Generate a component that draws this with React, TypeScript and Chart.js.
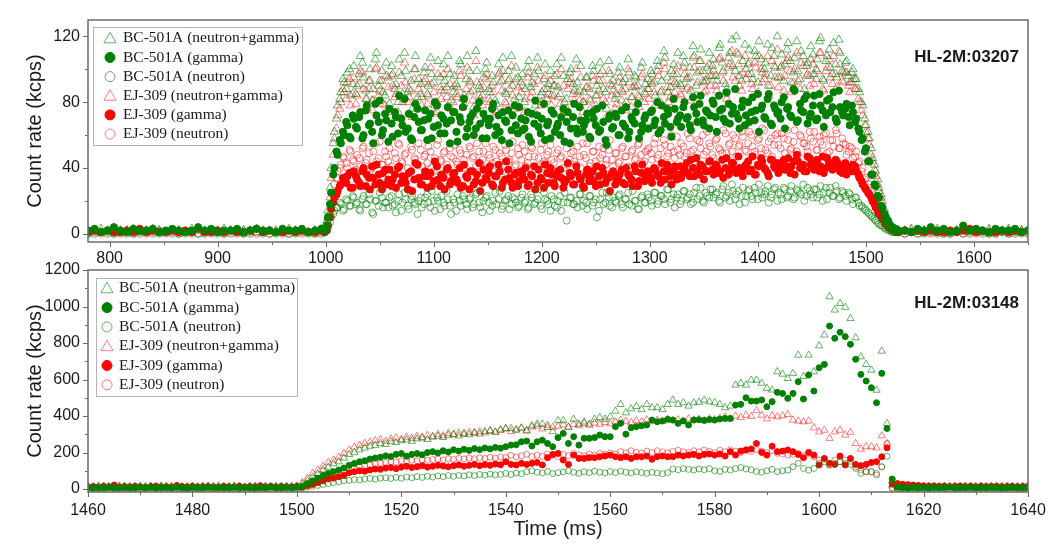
import React, { useEffect, useRef } from "react";
import { Chart, registerables } from "chart.js";

Chart.register(...registerables);

const SANS = "'Liberation Sans', Arial, sans-serif";
const SERIF = "'Liberation Serif', 'Times New Roman', serif";
const INK = "#1a1a1a";
const FRAME = "#6b6b6b";
const GREEN = "#008000";
const GREEN_OPEN = "rgba(0,128,0,0.6)";
const RED = "#ff0000";
const RED_OPEN = "rgba(255,0,0,0.5)";

const SERIES_LABELS = [
  "BC-501A (neutron+gamma)",
  "BC-501A (gamma)",
  "BC-501A (neutron)",
  "EJ-309 (neutron+gamma)",
  "EJ-309 (gamma)",
  "EJ-309 (neutron)",
];

// ---------- Shot HL-2M:03207 (count rate, kcps) ----------
// pre-discharge baseline: every 6 ms from 780 ms
const S1_PRE_T0 = 780;
const S1_PRE_DT = 6;
// discharge, two interleaved bin sets: every 3 ms from 999 ms and from 1001 ms
const S1_MAIN_T0 = 999;
const S1_MAIN_T0B = 1001;
const S1_MAIN_DT = 3;
// post-discharge baseline: every 6 ms from 1536 ms
const S1_POST_T0 = 1536;
const S1_POST_DT = 6;

const S1_BC_NG_PRE = [2,1,3,2,1,2,2,3,1,2,3,2,1,2,2,1,3,2,2,1,2,3,2,1,2,2,3,1,2,2,1,3,2,2,1,2,3];
const S1_BC_NG = [
  2,14,40,62,78,86,92,98,84,102, 90,108,95,82,100,88,110,93,86,104,
  79,97,91,106,85,99,88,76,108,94, 83,101,90,97,78,105,87,93,108,81,
  96,89,103,84,108,92,77,99,88,95, 104,86,92,79,98,107,85,94,90,101,
  83,97,88,105,92,78,99,86,103,91, 84,96,89,107,80,94,100,87,92,102,
  86,95,81,99,90,104,88,76,97,93, 85,101,92,80,98,89,95,83,104,91,
  88,97,84,102,93,107,86,99,92,110, 90,104,95,87,108,98,112,92,101,96,
  106,93,115,99,88,110,102,120,96,105, 100,112,94,108,117,98,104,90,113,101,
  95,109,103,116,92,107,99,111,88,104, 114,97,106,119,93,108,101,116,95,110,
  98,105,92,100,94,86,78,66,58,46, 38,28,20,12,7,4,3,2,
];
const S1_BC_NG_B = [
  8,28,55,70,82,94,88,100,91,85, 97,104,87,93,81,106,90,99,84,95,
  102,88,80,96,110,86,93,100,83,91, 98,85,107,92,80,95,103,89,97,86,
  91,105,82,94,99,87,111,90,84,100, 88,96,81,103,93,86,99,108,82,95,
  92,80,101,89,97,107,84,94,88,99, 90,103,85,96,82,98,91,106,87,80,
  95,88,102,84,93,99,86,105,90,82, 98,87,94,106,83,96,90,101,86,94,
  99,92,105,86,111,95,89,103,97,91, 108,94,101,114,90,105,99,93,110,102,
  96,113,104,91,107,118,99,109,93,115, 103,97,111,92,106,100,115,96,108,120,
  101,93,112,105,98,117,94,108,102,96, 109,100,117,94,105,112,97,103,118,99,
  104,96,98,94,88,80,70,62,52,42, 33,24,15,10,5,3,2,
];
const S1_BC_NG_POST = [2,3,1,2,2,3,2,1,2,3,2,2,1,3,2,2,3,1,2,2];

const S1_BC_G_PRE = [2,3,1,2,4,2,1,3,2,2,3,1,2,3,2,1,2,4,2,3,1,2,2,3,1,2,3,2,2,1,3,2,2,3,1,2,3];
const S1_BC_G = [
  2,10,25,40,48,55,60,66,58,70, 64,74,60,78,67,55,72,81,63,69,
  76,59,71,84,66,62,73,57,79,68, 63,75,70,58,80,66,72,61,77,69,
  74,56,68,82,64,71,60,76,67,73, 58,70,79,65,62,74,68,55,72,66,
  77,63,69,59,73,81,65,70,57,68, 75,62,67,71,56,74,64,79,61,69,
  66,73,58,70,76,63,68,54,72,65, 71,60,67,77,62,69,74,58,66,72,
  64,75,69,61,78,67,73,59,76,70, 65,80,71,63,77,68,84,66,74,72,
  79,62,75,70,86,67,77,73,64,81, 72,68,83,75,62,78,70,85,66,76,
  74,80,64,77,71,87,69,75,82,67, 73,84,70,78,65,81,74,86,68,77,
  72,79,66,74,70,62,58,52,44,36, 29,22,16,10,7,4,3,2,
];
const S1_BC_G_B = [
  5,18,36,50,57,62,68,59,72,65, 71,58,75,66,62,79,68,60,73,56,
  67,74,61,70,82,64,58,71,76,63, 69,57,73,65,78,61,70,67,55,74,
  62,71,77,59,68,73,64,80,58,70, 66,76,60,72,57,69,75,63,78,61,
  70,64,74,56,67,72,61,79,66,58, 73,65,60,76,68,55,71,64,77,62,
  69,59,74,66,62,78,57,70,64,73, 60,75,65,58,71,67,79,62,70,64,
  74,66,80,63,71,76,65,82,68,72, 77,70,66,83,73,79,69,75,64,81,
  71,84,76,68,79,73,88,70,77,66, 80,74,69,85,76,71,82,67,78,73,
  70,83,76,72,88,68,79,74,84,71, 78,69,85,75,72,82,77,70,87,74,
  76,71,78,68,64,57,50,44,36,30, 23,17,12,8,5,3,2,
];
const S1_BC_G_POST = [2,1,3,2,4,2,3,1,2,5,2,3,2,1,3,2,2,3,1,2];

const S1_BC_N_PRE = [0,0,1,0,0,1,0,0,0,1,0,0,1,0,0,0,1,0,0,1,0,0,0,1,0,0,1,0,0,0,1,0,0,1,0,0,0];
const S1_BC_N = [
  1,4,10,14,16,18,15,20,17,22, 19,14,23,18,21,12,20,25,16,19,
  22,17,13,24,19,21,15,23,18,20, 16,22,19,26,14,20,23,17,21,12,
  19,24,17,21,15,22,18,25,16,20, 23,14,20,18,26,17,21,15,22,19,
  17,24,20,16,22,19,27,15,21,18, 23,17,20,14,25,19,22,18,16,24,
  20,15,23,19,10,21,18,25,17,22, 19,24,16,21,18,26,20,15,23,19,
  22,17,25,20,23,18,27,21,16,24, 20,26,22,18,25,21,28,19,23,27,
  22,25,19,29,23,20,26,24,18,28, 23,27,21,25,30,22,26,19,24,28,
  25,21,27,23,29,22,26,24,20,28, 24,27,22,29,25,21,28,23,26,22,
  25,20,24,18,22,17,16,14,12,10, 8,6,5,3,2,1,1,1,
];
const S1_BC_N_B = [
  2,7,12,16,19,14,21,17,23,18, 15,21,18,24,13,20,17,22,19,16,
  23,18,20,14,25,17,21,19,12,22, 18,24,16,20,22,15,19,26,17,21,
  14,20,23,18,21,16,24,19,13,22, 19,17,25,21,15,20,23,18,21,16,
  22,19,15,24,18,21,17,25,20,14, 21,16,23,19,8,22,18,20,24,17,
  19,23,17,21,14,25,19,22,16,20, 23,18,21,25,17,20,15,22,19,24,
  20,25,18,23,21,27,19,24,22,18, 26,21,24,19,28,23,20,25,22,27,
  24,20,27,22,25,30,21,26,23,19, 26,23,28,21,25,24,29,22,27,20,
  24,28,22,26,21,27,25,30,23,26, 22,27,24,20,28,25,23,29,21,26,
  23,25,21,22,19,17,15,13,11,9, 7,5,4,3,2,1,1,
];
const S1_BC_N_POST = [0,1,0,0,1,0,0,0,1,0,0,1,0,0,0,1,0,0,1,0];

const S1_EJ_NG_PRE = [1,2,1,1,2,1,2,1,1,2,1,2,1,1,2,1,1,2,1,2,1,1,2,1,2,1,1,2,1,1,2,1,2,1,1,2,1];
const S1_EJ_NG = [
  2,10,34,58,72,80,86,92,78,95, 84,99,88,76,93,81,101,87,79,96,
  74,90,85,98,80,92,83,71,100,88, 78,94,84,91,73,97,82,87,100,76,
  90,83,96,79,101,86,72,92,82,89, 97,80,86,74,92,99,79,88,84,94,
  77,90,82,98,86,73,93,80,96,85, 78,90,83,100,75,88,94,81,86,95,
  80,89,76,93,84,97,82,71,91,87, 79,95,86,75,92,83,89,77,97,85,
  82,91,78,96,87,100,80,93,86,102, 84,97,89,81,101,92,105,86,95,90,
  99,87,107,93,82,103,95,110,90,98, 94,104,88,101,108,92,97,84,105,95,
  89,102,96,107,86,100,93,104,82,97, 106,91,99,110,87,101,95,108,89,103,
  92,98,86,94,88,80,72,62,54,44, 35,26,18,11,6,4,2,2,
];
const S1_EJ_NG_B = [
  6,22,48,64,76,88,82,94,85,79, 91,98,82,88,75,100,84,93,78,89,
  96,83,74,90,104,80,87,94,77,85, 92,79,101,86,74,89,97,83,91,80,
  85,99,77,88,93,81,105,84,78,94, 82,90,75,97,87,80,93,102,76,89,
  86,74,95,83,91,101,78,88,82,93, 84,97,79,90,76,92,85,100,81,74,
  89,82,96,78,87,93,80,99,84,76, 92,81,88,100,77,90,84,95,80,88,
  93,86,99,80,104,89,83,97,91,85, 101,88,95,107,84,99,93,87,103,96,
  90,106,98,85,101,111,93,103,87,108, 97,91,104,86,100,94,108,90,102,112,
  95,87,105,99,92,110,88,102,96,90, 103,94,110,88,99,106,91,97,111,93,
  98,90,92,88,82,75,66,58,48,39, 30,22,14,9,5,3,2,
];
const S1_EJ_NG_POST = [1,2,1,2,1,1,2,1,2,1,1,2,1,2,1,1,2,1,2,1];

const S1_EJ_G_PRE = [1,2,1,2,1,1,2,1,3,1,2,1,1,2,1,2,1,3,1,1,2,1,2,1,1,2,3,1,2,1,1,2,1,2,1,1,2];
const S1_EJ_G = [
  1,5,15,22,26,30,32,35,28,38, 33,29,40,36,27,34,42,31,37,30,
  39,33,28,41,35,31,37,26,43,34, 30,38,35,29,44,33,36,27,40,32,
  37,31,28,42,34,38,30,36,26,39, 33,41,29,35,38,31,44,34,28,37,
  32,36,40,30,35,27,39,33,42,31, 36,29,38,34,31,43,35,30,37,33,
  28,39,35,32,41,30,37,34,26,38, 33,36,31,40,35,29,38,32,42,34,
  37,31,39,35,43,33,38,30,41,36, 34,40,37,45,35,39,42,33,38,44,
  36,41,38,34,46,39,43,37,40,35, 42,38,47,36,41,44,39,35,45,40,
  37,43,39,46,41,36,44,40,38,47, 42,39,45,41,37,46,43,40,44,38,
  41,36,39,42,38,34,30,27,24,20, 16,12,9,6,4,3,2,1,
];
const S1_EJ_G_B = [
  2,10,19,24,29,34,31,37,28,35, 31,38,29,34,41,30,36,27,39,33,
  29,36,40,31,34,27,38,33,42,30, 35,28,37,32,41,29,34,39,30,36,
  33,40,29,35,27,38,32,43,31,34, 37,30,35,42,28,33,39,31,36,29,
  38,33,29,36,41,31,34,28,37,40, 31,35,39,28,33,37,30,41,34,29,
  36,32,38,29,35,40,31,34,37,30, 35,39,30,36,33,41,29,37,32,38,
  34,40,36,31,38,42,35,39,33,41, 37,43,35,40,46,36,41,38,44,39,
  42,37,45,40,36,43,39,47,38,41, 44,39,36,42,46,40,37,45,41,43,
  39,45,41,37,44,48,40,42,38,46, 41,44,38,47,40,43,39,45,42,37,
  43,40,38,41,36,32,28,25,22,18, 14,11,8,5,3,2,1,
];
const S1_EJ_G_POST = [2,1,2,1,2,1,1,2,1,2,3,1,2,1,1,2,1,2,1,2];

const S1_EJ_N_PRE = [0,1,0,1,0,0,1,0,1,0,1,2,0,1,0,1,0,0,1,0,1,0,1,0,0,1,0,1,0,1,0,0,1,0,1,0,1];
const S1_EJ_N = [
  1,6,18,30,38,42,46,40,50,44, 48,41,53,45,38,50,44,56,42,47,
  52,39,46,54,43,49,37,51,45,55, 41,48,53,40,46,57,44,50,38,47,
  54,42,49,45,36,52,47,55,43,50, 40,46,53,44,49,38,51,45,56,42,
  48,54,41,47,52,39,46,55,43,50, 45,38,51,47,56,42,49,44,53,40,
  48,55,43,50,39,46,52,45,57,41, 49,44,53,47,40,51,46,55,43,50,
  52,45,58,48,42,54,49,60,46,51, 55,47,61,50,44,57,52,48,62,53,
  46,58,51,63,49,55,60,47,54,59, 50,62,53,48,58,64,51,56,47,60,
  54,61,49,57,52,63,48,59,55,50, 58,62,51,56,60,49,57,53,61,52,
  55,48,53,46,50,44,40,34,30,24, 18,14,10,6,4,2,1,1,
];
const S1_EJ_N_B = [
  2,12,24,34,40,47,43,51,45,39, 46,52,43,49,40,55,46,42,50,44,
  41,49,55,44,48,40,53,46,42,51, 47,43,50,38,54,45,49,42,52,46,
  44,51,40,48,53,46,41,50,45,55, 48,43,51,39,47,54,44,49,41,52,
  45,50,43,53,47,41,51,44,48,54, 43,49,46,40,52,45,50,42,47,55,
  46,41,50,44,53,48,42,51,45,49, 43,52,47,41,50,45,54,48,44,51,
  49,55,46,52,57,47,53,50,59,48, 53,49,58,51,46,56,60,50,55,48,
  57,52,49,61,54,50,58,53,62,51, 55,60,50,57,52,63,49,58,54,61,
  52,58,63,51,56,50,60,55,53,62, 56,51,59,54,61,50,57,63,52,58,
  54,50,52,47,43,38,33,28,23,19, 15,11,8,5,3,2,1,
];
const S1_EJ_N_POST = [0,1,0,1,0,1,0,0,1,0,1,0,1,0,0,1,0,1,0,1];

// ---------- Shot HL-2M:03148 (count rate, kcps), 1 ms bins ----------
const S2_PRE_T0 = 1460;
const S2_MAIN_T0 = 1501;
const S2_POST_T0 = 1614;
const S2_DT = 1;

const S2_BC_NG_PRE = [12,10,14,11,13,9,12,14,10,13,11,12,15,10,12,13,11,14,10,12,13,11,12,14,10,13,12,11,14,12,10,13,11,12,14,10,12,13,11,12,14];
const S2_BC_NG = [
  25,45,65,85,105,120,140,150,170,190, 200,215,225,235,240,250,245,260,255,265,
  270,262,275,280,272,285,290,283,295,300, 292,305,298,310,302,315,320,312,325,
  332,332,323,334,318,347,356,356,338,315, 375,375,338,383,356,368,356,383,392,383,
  396,427,464,418,440,453,436,464,446,446, 436,464,488,464,473,455,473,476,488,479,
  473,464,446,455,570,580,570,597,597,580, 552,543,643,630,606,634,734,617,734,643,
  785,844,1054,981,1017,996,935,829,725,683, 652,542,756,360,
];
const S2_BC_NG_POST = [45,18,12,10,13,11,9,12,10,11,13,10,12,9,11,12,10,13,11,10,12,9,11,12,10,11,12];

const S2_BC_G_PRE = [8,6,9,7,10,8,6,9,7,8,10,7,9,6,8,9,7,10,8,6,9,8,7,10,8,9,6,8,10,7,9,8,6,9,7,10,8,7,9,8,10];
const S2_BC_G = [
  15,30,45,60,75,85,95,105,115,130, 140,150,155,165,170,175,182,178,190,195,
  180,190,195,188,200,205,198,210,203,215, 208,218,212,222,216,225,220,228,224,
  232,241,243,259,263,236,259,268,250,232, 282,305,250,287,241,278,278,282,296,287,
  287,342,360,301,336,342,347,351,378,369, 373,382,378,360,373,351,378,380,376,381,
  378,384,387,387,460,464,500,482,482,488, 451,479,530,524,497,524,588,493,625,537,
  665,683,893,826,859,835,793,711,628,592, 555,473,634,332,
];
const S2_BC_G_POST = [55,10,8,6,9,7,8,6,9,7,8,10,6,8,7,9,6,8,7,9,8,6,7,9,8,7,8];

const S2_BC_N_PRE = [2,3,1,2,3,2,4,2,1,3,2,2,3,1,2,4,2,3,2,1,3,2,2,3,1,2,3,2,4,2,1,3,2,2,3,1,2,3,2,2,3];
const S2_BC_N = [
  5,10,15,20,25,30,35,40,45,48, 52,50,55,58,54,60,62,58,64,60,
  66,62,68,64,70,66,72,68,74,70, 75,72,78,74,80,76,82,78,80,
  86,80,88,84,95,100,92,88,96,85, 90,94,100,92,86,95,90,98,92,88,
  96,90,98,92,88,95,90,86,92,88, 84,90,110,106,112,108,104,110,106,112,
  100,96,108,104,112,118,110,106,96,92, 100,108,95,100,104,122,141,113,104,113,
  141,150,132,141,150,141,135,113,86,95, 95,77,122,180,
];
const S2_BC_N_POST = [8,3,2,3,2,1,3,2,2,3,1,2,3,2,2,1,3,2,2,3,1,2,2,3,2,1,2];

const S2_EJ_NG_PRE = [15,13,16,14,12,15,17,13,15,14,16,12,15,14,17,13,15,16,14,12,15,13,16,14,15,17,13,14,16,15,12,14,16,13,15,14,16,13,15,14,16];
const S2_EJ_NG = [
  35,60,85,105,125,145,160,175,195,215, 230,240,250,258,265,270,262,275,280,272,
  285,278,290,283,295,288,300,292,305,298, 308,300,312,305,315,308,318,312,322,
  330,315,325,335,322,340,345,330,350,338, 345,352,340,355,348,360,350,362,355,365,
  358,368,378,372,365,375,368,380,372,378, 370,382,375,380,372,385,378,382,375,385,
  380,388,395,385,400,392,405,398,430,405, 385,402,396,402,409,378,373,369,373,336,
  314,323,278,314,323,296,311,250,219,232, 232,226,292,250,
];
const S2_EJ_NG_POST = [22,15,14,16,13,15,14,16,15,13,16,14,15,13,16,15,14,16,13,15,14,16,15,13,15,14,16];

const S2_EJ_G_PRE = [12,14,10,16,13,22,11,14,12,15,13,10,14,16,12,13,11,20,14,12,15,11,13,14,12,10,15,13,12,16,11,14,13,18,12,15,11,14,13,12,15];
const S2_EJ_G = [
  10,18,25,35,45,55,60,68,75,90, 95,100,98,105,110,108,115,118,112,120,
  125,118,122,128,120,125,130,126,122,128, 132,125,130,135,128,134,130,137,133,
  150,135,132,141,135,141,146,132,172,190, 195,159,135,186,168,168,172,172,177,181,
  186,177,172,177,168,177,177,181,163,177, 181,177,177,186,181,186,190,181,190,192,
  186,192,181,205,186,208,215,220,250,201, 186,235,205,208,214,205,190,172,201,186,
  132,168,141,135,181,132,168,135,128,135, 146,150,177,226,
];
const S2_EJ_G_POST = [28,30,26,24,22,20,18,16,17,15,16,14,15,17,14,16,13,15,14,16,15,13,14,15,13,14,15];

const S2_EJ_N_PRE = [3,4,2,3,5,3,2,4,3,3,4,2,3,5,3,4,2,3,4,3,2,4,3,5,3,2,4,3,3,4,2,5,3,4,3,2,4,3,3,4,3];
const S2_EJ_N = [
  12,25,38,50,62,72,80,90,98,108, 115,122,128,132,138,142,145,150,148,155,
  152,158,155,160,158,162,165,160,166,163, 168,165,170,166,172,168,174,170,176,
  172,185,176,182,190,178,186,180,192,185, 178,190,184,195,188,182,192,186,196,190,
  198,192,205,198,210,202,196,208,200,210, 204,198,206,212,204,200,210,205,214,206,
  200,212,205,215,208,200,212,206,216,208, 200,210,196,192,186,190,196,183,196,177,
  159,164,132,159,150,159,153,122,104,95, 95,86,122,250,
];
const S2_EJ_N_POST = [4,3,4,2,3,4,3,2,4,3,3,4,2,3,4,3,2,4,3,3,4,2,3,4,3,2,3];

// ---------- axes ----------
const S1_X_TICKS = [800, 900, 1000, 1100, 1200, 1300, 1400, 1500, 1600];
const S1_X_MINOR = [850, 950, 1050, 1150, 1250, 1350, 1450, 1550, 1650];
const S1_Y_TICKS = [0, 40, 80, 120];
const S1_Y_MINOR = [20, 60, 100];
const S2_X_TICKS = [1460, 1480, 1500, 1520, 1540, 1560, 1580, 1600, 1620, 1640];
const S2_X_MINOR = [1470, 1490, 1510, 1530, 1550, 1570, 1590, 1610, 1630];
const S2_Y_TICKS = [0, 200, 400, 600, 800, 1000, 1200];
const S2_Y_MINOR = [100, 300, 500, 700, 900, 1100];

type Pt = { x: number; y: number };

function seg(t0: number, dt: number, vals: number[]): Pt[] {
  return vals.map((v, i) => ({ x: t0 + i * dt, y: v }));
}

function shot1(pre: number[], main: number[], mainB: number[], post: number[]): Pt[] {
  return [
    ...seg(S1_PRE_T0, S1_PRE_DT, pre),
    ...seg(S1_MAIN_T0, S1_MAIN_DT, main),
    ...seg(S1_MAIN_T0B, S1_MAIN_DT, mainB),
    ...seg(S1_POST_T0, S1_POST_DT, post),
  ];
}

function shot2(pre: number[], main: number[], post: number[]): Pt[] {
  return [
    ...seg(S2_PRE_T0, S2_DT, pre),
    ...seg(S2_MAIN_T0, S2_DT, main),
    ...seg(S2_POST_T0, S2_DT, post),
  ];
}

type Kind = "triangle" | "circle";
const STYLES: { kind: Kind; color: string; filled: boolean }[] = [
  { kind: "triangle", color: GREEN_OPEN, filled: false },
  { kind: "circle", color: GREEN, filled: true },
  { kind: "circle", color: GREEN_OPEN, filled: false },
  { kind: "triangle", color: RED_OPEN, filled: false },
  { kind: "circle", color: RED, filled: true },
  { kind: "circle", color: RED_OPEN, filled: false },
];

type LegendBox = { x: number; y: number; w: number; h: number; symX: number; textX: number; row0: number; step: number };

type PanelSpec = {
  shot: string;
  top: number;
  height: number;
  padTop: number;
  xAxisH: number;
  xTickPad: number;
  series: Pt[][];
  xMin: number; xMax: number; yMin: number; yMax: number;
  xTicks: number[]; xMinor: number[]; yTicks: number[]; yMinor: number[];
  triR: number; dotR: number; ringR: number;
  legend: LegendBox;
  shotPos: { x: number; y: number };
  yTitleY: number;
  xTitle?: { x: number; y: number };
};

function drawMarker(ctx: CanvasRenderingContext2D, kind: Kind, x: number, y: number, r: number, color: string, filled: boolean) {
  ctx.beginPath();
  if (kind === "triangle") {
    for (let k = 0; k < 3; k++) {
      const a = (k * 2 * Math.PI) / 3;
      const px = x + Math.sin(a) * r;
      const py = y - Math.cos(a) * r;
      if (k === 0) ctx.moveTo(px, py);
      else ctx.lineTo(px, py);
    }
    ctx.closePath();
  } else {
    ctx.arc(x, y, r, 0, Math.PI * 2);
  }
  if (filled) {
    ctx.fillStyle = color;
    ctx.fill();
  }
  ctx.strokeStyle = color;
  ctx.lineWidth = 1;
  ctx.stroke();
}

function decor(p: PanelSpec) {
  return {
    id: "decor",
    afterDraw(chart: any) {
      const { ctx, chartArea: a, scales } = chart;
      const xs = scales.x;
      const ys = scales.y;
      ctx.save();

      // frame
      ctx.strokeStyle = FRAME;
      ctx.lineWidth = 1.5;
      ctx.strokeRect(a.left, a.top, a.right - a.left, a.bottom - a.top);

      // outward tick marks
      ctx.lineWidth = 1;
      ctx.beginPath();
      const xt = (vals: number[], len: number) => {
        for (const v of vals) {
          const px = Math.round(xs.getPixelForValue(v)) + 0.5;
          ctx.moveTo(px, a.bottom);
          ctx.lineTo(px, a.bottom + len);
        }
      };
      const yt = (vals: number[], len: number) => {
        for (const v of vals) {
          const py = Math.round(ys.getPixelForValue(v)) + 0.5;
          ctx.moveTo(a.left, py);
          ctx.lineTo(a.left - len, py);
        }
      };
      xt(p.xTicks, 5);
      xt(p.xMinor, 3);
      yt(p.yTicks, 5);
      yt(p.yMinor, 3);
      ctx.stroke();

      // axis titles
      ctx.fillStyle = INK;
      ctx.font = `20px ${SANS}`;
      ctx.textAlign = "center";
      ctx.textBaseline = "middle";
      ctx.save();
      ctx.translate(35, p.yTitleY);
      ctx.rotate(-Math.PI / 2);
      ctx.fillText("Count rate (kcps)", 0, 0);
      ctx.restore();
      if (p.xTitle) ctx.fillText("Time (ms)", p.xTitle.x, p.xTitle.y);

      // shot number
      ctx.font = `bold 17px ${SANS}`;
      ctx.textAlign = "right";
      ctx.fillText(p.shot, p.shotPos.x, p.shotPos.y);

      // legend
      const L = p.legend;
      ctx.fillStyle = "#ffffff";
      ctx.fillRect(L.x, L.y, L.w, L.h);
      ctx.strokeStyle = "#b4b4b4";
      ctx.lineWidth = 1;
      ctx.strokeRect(L.x + 0.5, L.y + 0.5, L.w, L.h);
      ctx.font = `15.5px ${SERIF}`;
      ctx.textAlign = "left";
      ctx.textBaseline = "middle";
      SERIES_LABELS.forEach((label, i) => {
        const st = STYLES[i];
        const yy = L.row0 + i * L.step;
        drawMarker(ctx, st.kind, L.symX, yy + (st.kind === "triangle" ? 1 : 0), st.kind === "triangle" ? 7 : 5, st.color, st.filled);
        ctx.fillStyle = INK;
        ctx.fillText(label, L.textX, yy);
      });

      ctx.restore();
    },
  };
}

function buildConfig(p: PanelSpec): any {
  return {
    type: "scatter",
    data: {
      datasets: p.series.map((pts, i) => {
        const st = STYLES[i];
        const r = st.kind === "triangle" ? p.triR : st.filled ? p.dotR : p.ringR;
        return {
          label: SERIES_LABELS[i],
          data: pts,
          showLine: false,
          pointStyle: st.kind,
          pointRadius: r,
          pointHoverRadius: r,
          pointBorderWidth: 1,
          pointBorderColor: st.color,
          pointBackgroundColor: st.filled ? st.color : "rgba(0,0,0,0)",
        };
      }),
    },
    options: {
      animation: false,
      responsive: false,
      events: [],
      layout: { padding: { top: p.padTop, right: 31, left: 0, bottom: 0 } },
      plugins: { legend: { display: false }, tooltip: { enabled: false } },
      scales: {
        x: {
          type: "linear",
          min: p.xMin,
          max: p.xMax,
          afterBuildTicks: (s: any) => {
            s.ticks = p.xTicks.map((v) => ({ value: v }));
          },
          afterFit: (s: any) => {
            s.height = p.xAxisH;
          },
          grid: { display: false, drawTicks: false },
          border: { display: false },
          ticks: {
            padding: p.xTickPad,
            color: INK,
            font: { family: SANS, size: 16 },
            maxRotation: 0,
            autoSkip: false,
            callback: (v: number) => String(v),
          },
        },
        y: {
          type: "linear",
          min: p.yMin,
          max: p.yMax,
          afterBuildTicks: (s: any) => {
            s.ticks = p.yTicks.map((v) => ({ value: v }));
          },
          afterFit: (s: any) => {
            s.width = 88;
          },
          grid: { display: false, drawTicks: false },
          border: { display: false },
          ticks: {
            padding: 8,
            color: INK,
            font: { family: SANS, size: 16 },
            autoSkip: false,
            callback: (v: number) => String(v),
          },
        },
      },
    },
    plugins: [decor(p)],
  };
}

const PANEL_1: PanelSpec = {
  shot: "HL-2M:03207",
  top: 0,
  height: 270,
  padTop: 20,
  xAxisH: 28,
  xTickPad: 7,
  series: [
    shot1(S1_BC_NG_PRE, S1_BC_NG, S1_BC_NG_B, S1_BC_NG_POST),
    shot1(S1_BC_G_PRE, S1_BC_G, S1_BC_G_B, S1_BC_G_POST),
    shot1(S1_BC_N_PRE, S1_BC_N, S1_BC_N_B, S1_BC_N_POST),
    shot1(S1_EJ_NG_PRE, S1_EJ_NG, S1_EJ_NG_B, S1_EJ_NG_POST),
    shot1(S1_EJ_G_PRE, S1_EJ_G, S1_EJ_G_B, S1_EJ_G_POST),
    shot1(S1_EJ_N_PRE, S1_EJ_N, S1_EJ_N_B, S1_EJ_N_POST),
  ],
  xMin: 780, xMax: 1650, yMin: -5, yMax: 130,
  xTicks: S1_X_TICKS, xMinor: S1_X_MINOR, yTicks: S1_Y_TICKS, yMinor: S1_Y_MINOR,
  triR: 4.8, dotR: 3.6, ringR: 3.5,
  legend: { x: 93, y: 27, w: 209, h: 118, symX: 110, textX: 123, row0: 38.3, step: 19.15 },
  shotPos: { x: 1019, y: 57 },
  yTitleY: 131,
};

const PANEL_2: PanelSpec = {
  shot: "HL-2M:03148",
  top: 250,
  height: 295,
  padTop: 20,
  xAxisH: 53,
  xTickPad: 9,
  series: [
    shot2(S2_BC_NG_PRE, S2_BC_NG, S2_BC_NG_POST),
    shot2(S2_BC_G_PRE, S2_BC_G, S2_BC_G_POST),
    shot2(S2_BC_N_PRE, S2_BC_N, S2_BC_N_POST),
    shot2(S2_EJ_NG_PRE, S2_EJ_NG, S2_EJ_NG_POST),
    shot2(S2_EJ_G_PRE, S2_EJ_G, S2_EJ_G_POST),
    shot2(S2_EJ_N_PRE, S2_EJ_N, S2_EJ_N_POST),
  ],
  xMin: 1460, xMax: 1640, yMin: -16, yMax: 1200,
  xTicks: S2_X_TICKS, xMinor: S2_X_MINOR, yTicks: S2_Y_TICKS, yMinor: S2_Y_MINOR,
  triR: 4.2, dotR: 3.0, ringR: 3.0,
  legend: { x: 96, y: 28, w: 201, h: 118, symX: 107, textX: 119, row0: 38.3, step: 19.3 },
  shotPos: { x: 1019, y: 53 },
  yTitleY: 131,
  xTitle: { x: 558, y: 279 },
};

function Panel({ spec }: { spec: PanelSpec }) {
  const ref = useRef<HTMLCanvasElement>(null);
  useEffect(() => {
    const chart = new Chart(ref.current as HTMLCanvasElement, buildConfig(spec));
    return () => chart.destroy();
  }, [spec]);
  return (
    <canvas
      ref={ref}
      width={1059}
      height={spec.height}
      style={{ position: "absolute", left: 0, top: spec.top, width: 1059, height: spec.height }}
    />
  );
}

export default function App() {
  return (
    <div style={{ position: "absolute", left: 0, top: 0, width: 1059, height: 545, background: "#fff" }}>
      <Panel spec={PANEL_1} />
      <Panel spec={PANEL_2} />
    </div>
  );
}
